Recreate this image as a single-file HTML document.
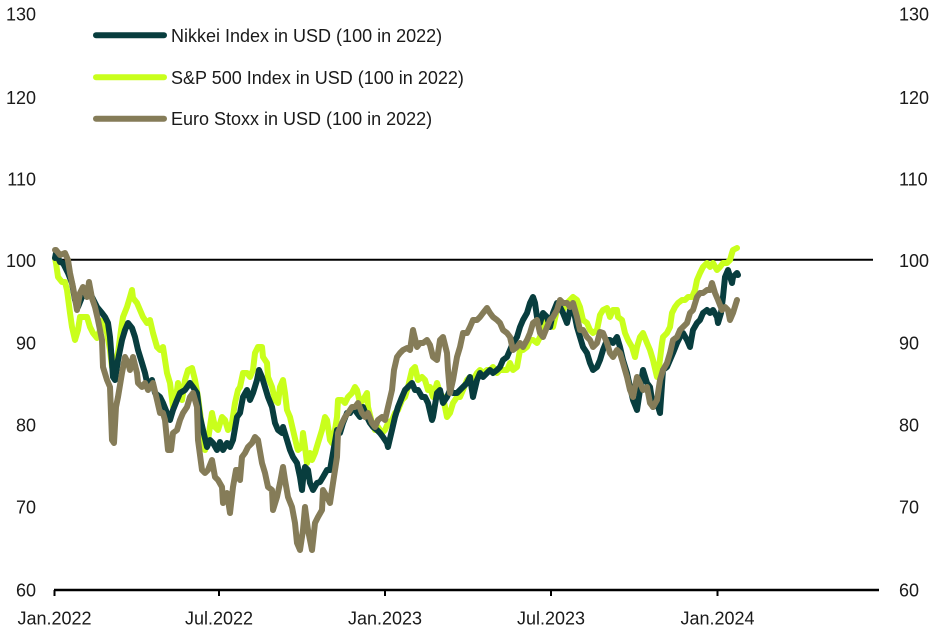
<!DOCTYPE html>
<html><head><meta charset="utf-8">
<style>
html,body{margin:0;padding:0;background:#fff;}
svg{display:block;}
text{font-family:"Liberation Sans",sans-serif;font-size:18px;fill:#1a1a1a;}
</style></head>
<body>
<svg width="934" height="633" viewBox="0 0 934 633" xmlns="http://www.w3.org/2000/svg">
<g text-anchor="end">
<text x="36" y="20.5">130</text>
<text x="36" y="104">120</text>
<text x="36" y="185.5">110</text>
<text x="36" y="267">100</text>
<text x="36" y="349.5">90</text>
<text x="36" y="431.5">80</text>
<text x="36" y="513.5">70</text>
<text x="36" y="596.5">60</text>
</g>
<g text-anchor="start">
<text x="899" y="20.5">130</text>
<text x="899" y="104">120</text>
<text x="899" y="185.5">110</text>
<text x="899" y="267">100</text>
<text x="899" y="349.5">90</text>
<text x="899" y="431.5">80</text>
<text x="899" y="513.5">70</text>
<text x="899" y="596.5">60</text>
</g>
<g text-anchor="middle">
<text x="54.5" y="624.5">Jan.2022</text>
<text x="219" y="624.5">Jul.2022</text>
<text x="385" y="624.5">Jan.2023</text>
<text x="551" y="624.5">Jul.2023</text>
<text x="717.5" y="624.5">Jan.2024</text>
</g>
<line x1="54" y1="590" x2="879" y2="590" stroke="#000" stroke-width="2.5"/>
<g stroke="#000" stroke-width="2">
<line x1="54.5" y1="590" x2="54.5" y2="596"/>
<line x1="219" y1="590" x2="219" y2="596"/>
<line x1="385" y1="590" x2="385" y2="596"/>
<line x1="551" y1="590" x2="551" y2="596"/>
<line x1="717.5" y1="590" x2="717.5" y2="596"/>
</g>
<line x1="55" y1="259.8" x2="873" y2="259.8" stroke="#000" stroke-width="2"/>

<g fill="none" stroke-width="6" stroke-linejoin="round" stroke-linecap="round">
<polyline stroke="#c9ff1c" points="55,258 56,263 58,277 62,282 65,282 67,290 70,313 72,327 75,340 78,330 80,317 83,317 87,317 90,327 93,333 97,338 100,330 103,320 107,333 110,350 112,367 115,363 118,353 121,330 123,317 127,307 130,297 132,290 133,298 137,303 140,310 143,317 147,323 150,320 153,333 157,347 160,350 163,347 165,360 167,373 170,383 173,407 176,397 178,383 182,400 185,380 188,370 192,368 195,380 198,397 202,427 205,450 208,440 212,413 215,427 218,430 222,417 225,420 228,430 232,423 235,403 238,390 240,387 243,373 247,373 250,377 253,370 255,353 258,347 262,347 263,357 267,363 268,377 272,387 275,400 278,403 280,387 283,380 285,393 287,410 290,417 293,430 297,447 298,450 302,447 303,433 305,447 307,463 310,453 312,460 315,453 318,443 322,430 325,417 327,420 330,440 332,443 335,430 337,417 338,400 342,400 345,403 348,397 352,393 355,387 357,390 360,403 363,400 367,393 368,407 372,423 375,430 378,427 382,433 385,430 388,423 392,420 395,413 398,410 402,400 405,397 408,387 412,370 415,367 418,380 422,377 425,380 428,390 430,387 433,397 437,383 440,393 443,397 447,417 450,413 453,403 457,397 460,397 463,390 467,380 470,377 473,380 477,373 480,370 483,373 487,370 490,370 493,367 497,373 500,370 503,370 507,370 510,363 513,370 517,367 520,350 523,350 527,347 530,340 533,340 537,343 540,337 543,330 547,320 550,320 553,327 557,310 560,307 563,310 567,303 570,300 573,297 577,300 580,307 583,320 587,323 590,330 593,333 597,330 600,315 603,310 607,308 610,317 613,310 617,310 618,317 622,320 625,333 628,340 632,347 635,357 637,347 640,337 643,333 647,343 650,350 653,360 657,377 659,367 662,343 663,337 667,333 670,327 672,313 675,307 678,303 682,300 685,300 688,297 692,297 695,290 697,280 700,273 703,267 707,263 710,267 713,263 717,270 720,267 723,263 727,263 730,260 732,253 733,250 737,248"/>
<polyline stroke="#083d3e" points="55,258 56,253 60,262 63,263 68,273 72,283 75,300 78,307 82,297 87,290 92,297 97,307 102,313 105,317 108,323 110,337 112,363 113,377 115,380 118,360 122,340 125,330 128,323 132,328 135,337 138,350 142,363 145,373 148,387 152,380 155,393 160,397 163,403 167,413 170,420 173,410 177,400 180,393 185,390 190,383 193,387 197,393 200,417 203,430 207,447 210,440 213,443 217,450 220,442 223,450 227,443 230,447 233,440 237,417 240,413 243,397 247,390 250,400 253,393 257,380 259,370 262,377 265,387 268,397 272,407 275,423 278,430 282,433 283,427 287,440 290,450 293,457 297,463 300,477 302,490 303,480 305,467 308,470 310,483 313,490 317,483 320,482 323,477 327,470 330,470 333,453 337,430 340,433 343,423 347,413 350,413 353,407 357,413 360,417 363,407 367,417 370,423 373,427 377,430 380,433 383,437 387,443 388,447 392,430 395,417 398,407 402,397 405,390 408,387 412,383 415,390 418,390 422,397 425,397 428,403 432,420 433,417 437,393 440,390 443,403 447,397 450,390 453,393 457,393 460,390 463,387 467,383 470,377 473,397 477,380 480,373 483,377 487,373 490,370 493,373 497,370 500,367 503,360 507,357 510,350 513,343 517,337 520,327 523,320 527,313 530,303 533,297 535,303 537,317 540,323 543,313 547,317 550,327 553,313 557,303 560,307 563,313 567,323 570,310 573,307 577,327 580,337 583,347 587,353 590,363 593,370 597,367 600,360 603,350 607,340 610,340 613,343 617,337 620,347 623,360 627,373 630,387 633,400 637,410 640,390 643,370 647,383 650,387 653,407 657,403 660,413 663,370 667,367 670,360 673,353 677,343 680,337 683,333 687,340 690,347 693,330 697,323 700,320 703,313 707,310 710,313 713,310 717,317 718,323 721,313 723,297 725,277 728,270 732,283 733,277 737,273 738,275"/>
<polyline stroke="#857c58" points="55,250 56,250 60,255 65,253 68,260 70,273 73,287 77,310 80,293 83,287 87,297 89,282 92,298 95,307 98,320 102,340 103,367 107,380 110,387 112,440 114,443 116,407 118,397 122,373 125,357 128,363 130,370 133,357 137,373 138,383 142,387 145,383 148,390 153,383 157,400 160,413 163,413 165,420 168,450 171,450 173,433 177,430 180,420 183,413 187,407 190,397 193,393 197,407 198,440 202,470 205,473 208,470 212,460 215,477 218,480 222,487 223,503 227,493 230,513 233,487 236,470 238,470 240,480 242,457 245,453 248,447 252,443 255,437 258,440 262,463 265,473 268,487 272,490 273,510 277,497 280,483 283,467 285,480 288,497 292,507 295,523 297,543 300,550 303,530 305,507 308,530 312,550 315,523 318,517 322,510 323,490 327,497 330,503 333,483 337,457 338,433 342,423 345,417 348,413 352,407 355,407 358,403 362,413 365,417 368,413 372,423 375,427 378,420 382,417 385,420 388,407 392,390 394,370 397,357 400,353 403,350 407,348 410,350 413,330 417,347 420,343 423,343 427,340 430,345 433,357 437,360 440,340 443,337 447,353 448,370 450,393 453,380 457,357 460,347 463,333 467,333 470,327 473,320 477,320 480,317 483,313 487,308 490,313 493,317 497,320 500,323 503,330 507,333 510,337 513,350 517,347 520,343 523,347 527,340 530,333 533,323 537,320 540,333 543,337 547,327 550,320 553,317 557,310 560,300 563,303 567,303 570,307 573,303 577,317 580,330 583,330 587,337 590,340 593,347 597,343 600,332 603,333 607,343 610,353 613,357 617,350 620,353 623,363 627,377 630,390 633,397 637,377 640,383 643,390 647,387 650,403 653,407 657,400 660,380 663,370 667,363 670,353 673,340 677,337 680,330 683,327 687,323 690,313 693,310 697,297 700,293 703,293 707,290 710,290 712,283 715,293 718,300 722,310 725,307 728,310 730,320 733,313 737,300"/>
</g>

<g stroke-width="6" stroke-linecap="round">
<line x1="96" y1="35.3" x2="164" y2="35.3" stroke="#083d3e"/>
<line x1="96" y1="77.3" x2="164" y2="77.3" stroke="#c9ff1c"/>
<line x1="96" y1="118.7" x2="164" y2="118.7" stroke="#857c58"/>
</g>
<text x="171" y="41.8">Nikkei Index in USD (100 in 2022)</text>
<text x="171" y="83.8">S&amp;P 500 Index in USD (100 in 2022)</text>
<text x="171" y="125.2">Euro Stoxx in USD (100 in 2022)</text>
</svg>
</body></html>
